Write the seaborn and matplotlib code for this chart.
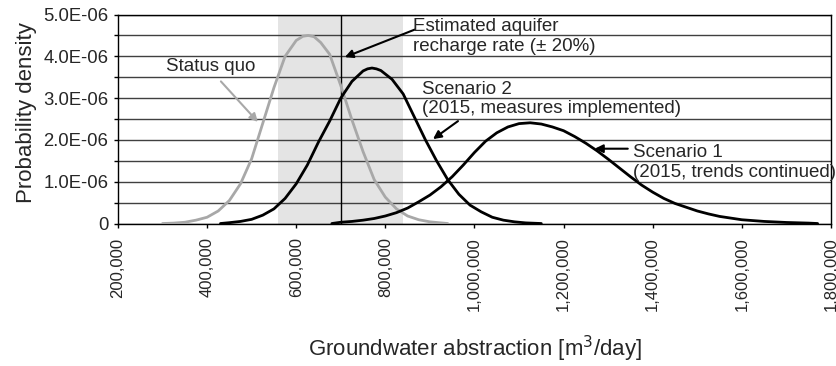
import matplotlib
matplotlib.use("Agg")
import matplotlib.pyplot as plt
import seaborn as sns

# values (x in m3/day, y in probability density * 1e-6)
sq_x = [300000, 325000, 350000, 375000, 400000, 425000, 450000, 475000, 500000, 525000,
        550000, 575000, 600000, 615000, 627000, 640000, 655000, 675000, 700000, 725000,
        750000, 775000, 800000, 825000, 850000, 875000, 900000, 925000, 940000]
sq_y = [0.0, 0.01, 0.03, 0.08, 0.15, 0.3, 0.55, 0.95, 1.55, 2.4,
        3.25, 4.0, 4.38, 4.48, 4.5, 4.47, 4.33, 4.05, 3.3, 2.48,
        1.72, 1.05, 0.63, 0.35, 0.18, 0.09, 0.04, 0.015, 0.0]

s2_x = [430000, 450000, 475000, 500000, 525000, 550000, 575000, 600000, 625000, 650000,
        675000, 700000, 725000, 750000, 760000, 770000, 780000, 790000, 815000, 840000,
        865000, 890000, 915000, 940000, 965000, 990000, 1015000, 1040000, 1065000, 1090000,
        1115000, 1150000]
s2_y = [0.0, 0.02, 0.05, 0.1, 0.2, 0.35, 0.6, 0.95, 1.4, 1.95,
        2.45, 3.0, 3.4, 3.65, 3.7, 3.72, 3.7, 3.66, 3.45, 3.1,
        2.55, 2.0, 1.5, 1.05, 0.7, 0.44, 0.28, 0.15, 0.08, 0.04,
        0.015, 0.0]

s1_x = [680000, 700000, 725000, 750000, 775000, 800000, 825000, 850000, 875000, 900000,
        925000, 950000, 975000, 1000000, 1025000, 1050000, 1075000, 1100000, 1125000, 1150000,
        1175000, 1200000, 1225000, 1250000, 1275000, 1300000, 1325000, 1350000, 1375000, 1400000,
        1425000, 1450000, 1475000, 1500000, 1525000, 1550000, 1575000, 1600000, 1625000, 1650000,
        1700000, 1750000, 1770000]
s1_y = [0.0, 0.03, 0.05, 0.08, 0.12, 0.18, 0.26, 0.37, 0.52, 0.68,
        0.88, 1.12, 1.4, 1.7, 1.97, 2.17, 2.31, 2.39, 2.41, 2.38,
        2.31, 2.22, 2.08, 1.92, 1.74, 1.54, 1.33, 1.12, 0.92, 0.75,
        0.6, 0.48, 0.39, 0.3, 0.23, 0.17, 0.13, 0.09, 0.07, 0.05,
        0.025, 0.01, 0.0]

x_ticks = [200000, 400000, 600000, 800000, 1000000, 1200000, 1400000, 1600000, 1800000]
x_tick_labels = ["200,000", "400,000", "600,000", "800,000", "1,000,000",
                 "1,200,000", "1,400,000", "1,600,000", "1,800,000"]
y_ticks = [0, 0.5e-6, 1.0e-6, 1.5e-6, 2.0e-6, 2.5e-6, 3.0e-6, 3.5e-6, 4.0e-6, 4.5e-6, 5.0e-6]
y_tick_labels = ["0", "", "1.0E-06", "", "2.0E-06", "", "3.0E-06", "", "4.0E-06", "", "5.0E-06"]

recharge = 700000
recharge_band = (560000, 840000)

sns.set_theme(style="white")
plt.rcParams["font.family"] = ["Liberation Sans", "DejaVu Sans"]

fig = plt.figure(figsize=(8.36, 3.66), dpi=100)
ax = fig.add_axes([0.1411, 0.3893, 0.8529, 0.571])

ax.axvspan(*recharge_band, color="#e4e4e4", lw=0, zorder=0.2)
ax.axvline(recharge, color="black", lw=1, zorder=1.5)

sns.lineplot(x=sq_x, y=[v * 1e-6 for v in sq_y], color="#a8a8a8", lw=2, ax=ax, zorder=3)
sns.lineplot(x=s2_x, y=[v * 1e-6 for v in s2_y], color="black", lw=2, ax=ax, zorder=3)
sns.lineplot(x=s1_x, y=[v * 1e-6 for v in s1_y], color="black", lw=2, ax=ax, zorder=3)

ax.set_xlim(200000, 1800000)
ax.set_ylim(0, 5.0e-6)
ax.set_xticks(x_ticks)
ax.set_xticklabels(x_tick_labels, rotation=90, fontsize=12)
ax.set_yticks(y_ticks)
ax.set_yticklabels(y_tick_labels, fontsize=13.3)
ax.tick_params(axis="both", bottom=True, left=True, direction="out", length=3, width=1, color="black")
ax.tick_params(axis="x", pad=7)
ax.tick_params(axis="y", pad=4)

ax.set_axisbelow(True)
ax.yaxis.grid(True, color="#404040", lw=1)
ax.xaxis.grid(False)
for s in ax.spines.values():
    s.set_color("black")
    s.set_linewidth(1)

ax.set_xlabel("Groundwater abstraction [m$^3$/day]", fontsize=16, va="center")
ax.xaxis.set_label_coords(0.5, -0.6)
ax.set_ylabel("Probability density", fontsize=16, va="center")
ax.yaxis.set_label_coords(-0.128, 0.53)

arrow = dict(arrowstyle="-|>", color="black", lw=1.5, mutation_scale=12, shrinkA=0, shrinkB=0)
ax.annotate("", xy=(514000, 2.43e-6), xytext=(431000, 3.40e-6),
            arrowprops=dict(arrow, color="#a8a8a8"))
ax.text(408000, 3.76e-6, "Status quo", ha="center", va="center", fontsize=13.5)

ax.annotate("", xy=(709000, 3.98e-6), xytext=(866000, 4.64e-6), arrowprops=arrow)
ax.text(862000, 4.47e-6, "Estimated aquifer\nrecharge rate (\u00b1 20%)",
        ha="left", va="center", fontsize=13.5, linespacing=1.2)

ax.annotate("", xy=(907000, 2.02e-6), xytext=(963000, 2.45e-6), arrowprops=arrow)
ax.text(882000, 2.98e-6, "Scenario 2\n(2015, measures implemented)",
        ha="left", va="center", fontsize=13.5, linespacing=1.2)

ax.annotate("", xy=(1270000, 1.79e-6), xytext=(1344000, 1.79e-6), arrowprops=arrow)
ax.text(1356000, 1.46e-6, "Scenario 1\n(2015, trends continued)",
        ha="left", va="center", fontsize=13.5, linespacing=1.2)

fig.savefig("out.png", dpi=100)
